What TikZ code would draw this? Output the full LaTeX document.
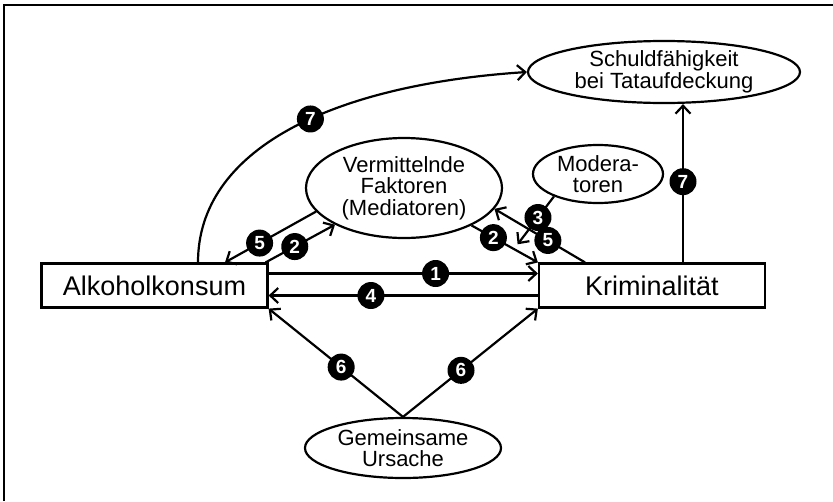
\documentclass[tikz,border=0pt]{standalone}
\usepackage{fontspec}
\setmainfont{Liberation Sans}
\usetikzlibrary{shapes.geometric, arrows.meta, calc}

\begin{document}
\begin{tikzpicture}[x=1pt, y=-1pt,
    box/.style={draw, line width=2.2pt, minimum width=226pt, minimum height=44pt,
                inner sep=0pt, font=\fontsize{27}{30}\selectfont},
    bubble/.style={draw, ellipse, line width=2.2pt, inner sep=0pt, align=center,
                   font=\fontsize{22}{21.5}\selectfont},
    link/.style={line width=2.2pt, -{Straight Barb[length=8pt,width=15pt]}},
    badge/.style={circle, fill=black, text=white, minimum size=27pt, inner sep=0pt,
                  font=\fontsize{19}{19}\bfseries\selectfont}
]
    \useasboundingbox (0,0) rectangle (833,501);

    % Frame
    \draw[line width=1.8pt] (4,501) -- (4,5) -- (833,5);

    % Boxes
    \node[box] (alk) at (154.5,285.5) {Alkoholkonsum};
    \node[box] (krim) at (652,285.5) {Kriminalität};

    % Ellipses
    \node[bubble, minimum width=196pt, minimum height=100pt] (med) at (404,188)
        {Vermittelnde\\Faktoren\\(Mediatoren)};
    \node[bubble, minimum width=130pt, minimum height=58pt] (mod) at (598,174)
        {Modera-\\toren};
    \node[bubble, minimum width=272pt, minimum height=62pt] (schuld) at (664,72)
        {Schuldfähigkeit\\bei Tataufdeckung};
    \node[bubble, minimum width=196pt, minimum height=60pt] (urs) at (403,448)
        {Gemeinsame\\Ursache};

    % Direct paths
    \draw[link] ([yshift=12pt]alk.east) -- node[badge, pos=0.62] (n1) {1} ([yshift=12pt]krim.west);
    \draw[link] ([yshift=-10pt]krim.west) -- node[badge, pos=0.62] (n4) {4} ([yshift=-10pt]alk.east);

    % Mediators
    \draw[link] (med.195) -- node[badge, pos=0.62] (n5a) {5} ([xshift=70.5pt]alk.north);
    \draw[link] ([xshift=-3pt]alk.north east) -- node[badge, pos=0.42] (n2a) {2} (med.208);
    \draw[link] (med.331) -- node[badge, pos=0.33] (n2b) {2} coordinate[pos=0.64] (m3) (krim.north west);
    \draw[link] ([xshift=-67pt]krim.north) -- node[badge, pos=0.41] (n5b) {5} (med.347);

    % Moderators
    \draw[link, shorten >=6pt] (mod.207) -- node[badge, pos=0.4] (n3) {3} (m3);

    % Common cause
    \draw[link] (urs.north) -- node[badge, pos=0.46] (n6a) {6} (alk.south east);
    \draw[link] (urs.north) -- node[badge, pos=0.43] (n6b) {6} (krim.south west);

    % Culpability
    \coordinate (k7) at ([xshift=31pt]krim.north);
    \draw[link] (k7) -- node[badge, pos=0.51] (n7b) {7} (k7 |- schuld.south);
    \draw[link] ([xshift=43.5pt]alk.north) .. controls (198,150) and (330,85) ..
        node[badge, pos=0.56] (n7a) {7} (schuld.west);
\end{tikzpicture}
\end{document}
